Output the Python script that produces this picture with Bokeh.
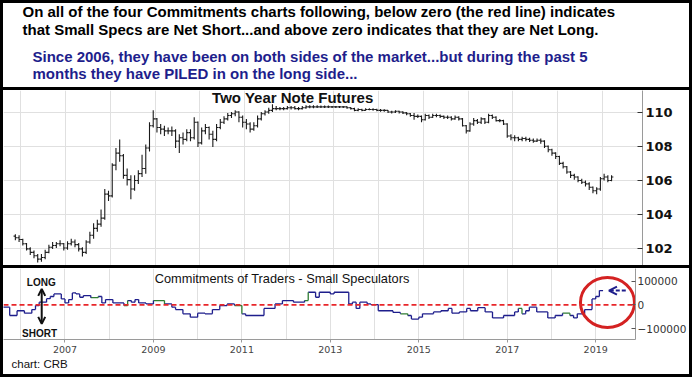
import pandas as pd
from bokeh.plotting import figure
from bokeh.models import (Range1d, FixedTicker, Label, Span, Arrow, OpenHead, Title,
                          BasicTickFormatter, Spacer)
from bokeh.layouts import column, row
from bokeh.embed import file_html
from bokeh.resources import INLINE

# ---------------- data ----------------
first_month = "2005-11"
first_open = 102.75
closes = [
    102.65, 102.55,
    102.30, 102.00, 101.80, 101.60, 101.40, 101.50, 101.80, 102.10, 102.20, 102.30, 102.30, 102.05,
    102.30, 102.40, 102.25, 102.00, 101.80, 102.40, 102.80, 103.20, 103.45, 103.80, 105.20, 105.10,
    106.90, 107.60, 107.45, 106.30, 106.05, 105.50, 106.00, 106.40, 106.70, 107.90, 109.20, 109.60,
    109.10, 109.00, 108.90, 108.90, 108.90, 108.30, 108.50, 108.40, 108.80, 108.50, 109.40, 108.20,
    108.90, 109.10, 108.70, 108.40, 109.10, 109.40, 109.60, 109.80, 109.90, 110.00, 109.70, 109.40,
    109.30, 109.00, 109.20, 109.60, 109.90, 110.00, 110.10, 110.20, 110.20, 110.20, 110.20, 110.25,
    110.25, 110.20, 110.20, 110.25, 110.30, 110.30, 110.30, 110.30, 110.30, 110.30, 110.30, 110.30,
    110.30, 110.30, 110.30, 110.25, 110.20, 110.10, 110.15, 110.10, 110.15, 110.15, 110.15, 110.10,
    110.10, 110.10, 110.00, 110.00, 110.05, 110.00, 109.95, 109.90, 109.80, 109.75, 109.75, 109.55,
    109.80, 109.70, 109.80, 109.80, 109.75, 109.70, 109.70, 109.60, 109.70, 109.60, 109.20, 108.90,
    109.30, 109.50, 109.40, 109.60, 109.40, 109.80, 109.70, 109.50, 109.50, 109.30, 108.60, 108.50,
    108.50, 108.40, 108.45, 108.40, 108.35, 108.30, 108.35, 108.30, 108.00, 107.80, 107.60, 107.40,
    107.00, 106.80, 106.50, 106.30, 106.20, 106.00, 105.90, 105.80, 105.60, 105.40, 105.50, 106.10,
    106.20, 106.00, 106.20,
]
highs = [
    102.85, 102.80,
    102.60, 102.35, 102.10, 101.90, 101.70, 101.70, 101.95, 102.25, 102.40, 102.40, 102.50, 102.35,
    102.45, 102.60, 102.55, 102.35, 102.10, 102.50, 103.00, 103.50, 103.70, 104.30, 105.50, 105.40,
    107.00, 107.90, 108.40, 107.55, 106.70, 106.30, 106.30, 106.60, 107.50, 108.10, 109.40, 110.10,
    109.65, 109.30, 109.20, 109.10, 109.15, 109.00, 108.70, 108.80, 109.00, 109.00, 109.70, 109.45,
    109.10, 109.30, 109.15, 108.90, 109.30, 109.60, 109.75, 109.95, 110.00, 110.10, 110.05, 109.80,
    109.60, 109.40, 109.40, 109.80, 110.00, 110.10, 110.25, 110.45, 110.35, 110.30, 110.30, 110.35,
    110.35, 110.35, 110.30, 110.35, 110.40, 110.40, 110.40, 110.40, 110.38, 110.38, 110.38, 110.36,
    110.36, 110.36, 110.36, 110.34, 110.30, 110.25, 110.22, 110.20, 110.22, 110.22, 110.22, 110.20,
    110.18, 110.16, 110.12, 110.08, 110.10, 110.08, 110.05, 110.00, 109.95, 109.95, 109.85, 109.80,
    109.90, 109.85, 109.90, 109.90, 109.85, 109.80, 109.80, 109.75, 109.80, 109.75, 109.65, 109.25,
    109.40, 109.65, 109.60, 109.70, 109.65, 109.90, 109.85, 109.75, 109.60, 109.55, 109.35, 108.70,
    108.65, 108.55, 108.55, 108.55, 108.50, 108.45, 108.45, 108.45, 108.35, 108.05, 107.85, 107.65,
    107.45, 107.10, 106.85, 106.55, 106.40, 106.25, 106.10, 106.00, 105.90, 105.65, 105.60, 106.20,
    106.40, 106.30, 106.30,
]
lows = [
    102.50, 102.40,
    102.20, 101.90, 101.65, 101.45, 101.20, 101.25, 101.40, 101.75, 102.00, 102.05, 102.15, 101.90,
    101.95, 102.20, 102.10, 101.85, 101.55, 101.70, 102.30, 102.60, 103.00, 103.30, 103.70, 104.80,
    105.00, 106.60, 107.10, 106.10, 105.70, 104.90, 105.40, 105.80, 106.20, 106.40, 107.70, 109.10,
    108.80, 108.70, 108.60, 108.70, 108.60, 107.90, 107.60, 108.10, 108.30, 108.30, 108.40, 107.95,
    108.10, 108.70, 108.40, 107.95, 108.30, 109.00, 109.30, 109.50, 109.65, 109.75, 109.40, 109.10,
    109.00, 108.80, 108.90, 109.10, 109.50, 109.80, 109.90, 110.00, 110.10, 110.10, 110.10, 110.15,
    110.15, 110.15, 110.10, 110.15, 110.20, 110.22, 110.22, 110.24, 110.24, 110.24, 110.24, 110.24,
    110.24, 110.24, 110.24, 110.20, 110.15, 110.05, 110.05, 110.05, 110.08, 110.10, 110.08, 110.05,
    110.02, 110.02, 109.95, 109.92, 109.95, 109.92, 109.88, 109.82, 109.72, 109.55, 109.65, 109.40,
    109.50, 109.60, 109.65, 109.70, 109.65, 109.60, 109.60, 109.50, 109.55, 109.50, 109.15, 108.75,
    108.85, 109.20, 109.30, 109.30, 109.30, 109.35, 109.60, 109.45, 109.40, 109.25, 108.50, 108.35,
    108.30, 108.30, 108.30, 108.30, 108.25, 108.20, 108.25, 108.15, 107.90, 107.65, 107.45, 107.25,
    106.90, 106.70, 106.40, 106.15, 106.05, 105.90, 105.80, 105.65, 105.45, 105.25, 105.20, 105.40,
    106.00, 105.90, 105.95,
]

cot_dates = [
    "2005-08", "2005-10", "2005-12", "2006-02", "2006-04", "2006-05", "2006-06", "2006-08",
    "2006-09", "2006-10", "2006-12", "2007-01", "2007-02", "2007-03", "2007-04", "2007-05",
    "2007-06", "2007-08", "2007-10", "2007-11", "2007-12", "2008-02", "2008-05", "2008-06",
    "2008-07", "2008-08", "2008-09", "2008-11", "2009-01", "2009-04", "2009-06", "2009-07",
    "2009-09", "2009-11", "2010-01", "2010-03", "2010-05", "2010-07", "2010-09", "2010-11",
    "2011-01", "2011-02", "2011-07", "2011-10", "2011-12", "2012-03", "2012-06", "2012-07",
    "2012-09", "2012-10", "2013-01", "2013-02", "2013-06", "2013-07", "2013-08", "2013-09",
    "2013-11", "2013-12", "2014-02", "2014-06", "2014-08", "2014-10", "2014-11", "2015-01",
    "2015-02", "2015-05", "2015-07", "2015-09", "2015-10", "2015-12", "2016-02", "2016-03",
    "2016-05", "2016-07", "2016-09", "2016-12", "2017-03", "2017-04", "2017-05", "2017-06",
    "2017-07", "2017-09", "2017-12", "2018-02", "2018-04", "2018-06", "2018-07", "2018-08",
    "2018-10", "2018-12", "2019-01", "2019-02", "2019-03",
]
cot_values = [
    -10000, -45000, -25000, -35000, -20000, -3000, 11000, 26000,
    35000, 46000, 25000, 8000, 22000, 50000, 46000, 32000,
    39000, 30000, 35000, 8000, 22000, 8000, -3000, 18000,
    11000, 22000, 8000, 4000, 18000, 4000, -10000, -20000,
    -38000, -52000, -35000, -38000, -20000, -3000, 4000, -3000,
    -38000, -45000, -15000, 4000, 18000, 11000, 18000, 53000,
    32000, 53000, 46000, 53000, 4000, 11000, -15000, 11000,
    4000, 1000, -25000, -32000, -38000, -45000, -60000, -52000,
    -38000, -30000, -25000, -15000, -35000, -30000, -15000, -25000,
    -12000, -30000, -55000, -45000, -30000, -15000, -38000, -25000,
    -10000, -30000, -55000, -45000, -35000, -45000, -55000, -38000,
    -20000, 25000, 35000, 60000, 60000,
]
# steps drawn in green instead of navy
cot_green_steps = ["2007-08", "2008-05", "2009-01", "2010-11", "2012-06", "2014-08", "2017-04", "2018-04"]

price_ticks = [102, 104, 106, 108, 110]
cot_ticks = [-100000, 0, 100000]
year_labels = [2007, 2009, 2011, 2013, 2015, 2017, 2019]
grid_years = list(range(2006, 2020))

text_black = [
    "On all of the four Commitments charts following, below zero (the red line) indicates",
    "that Small Specs are Net Short...and above zero indicates that they are Net Long.",
]
text_blue = [
    "Since 2006, they have been on both sides of the market...but during the past 5",
    "months they have PILED in on the long side...",
]

# ---------------- styling constants ----------------
W, PAD = 692, 3
INNER = W - 2 * PAD
H_TEXT, H_PRICE, H_COT = 84, 175, 106
RIGHT = 47
X_RANGE = (2005.61, 2019.90)
NAVY = "#1e1e8c"
GRID = "#e0e0e0"
AX = "#9a9a9a"
ARIAL = "Liberation Sans"
VERD = "DejaVu Sans"


def black(w, h):
    return Spacer(width=w, height=h, styles={"background-color": "black"})


# ---------------- text panel ----------------
tp = figure(width=INNER, height=H_TEXT, toolbar_location=None, output_backend="svg", title=None,
            x_axis_location=None, y_axis_location=None, min_border=0,
            x_range=Range1d(0, INNER), y_range=Range1d(H_TEXT, 0),
            outline_line_color=None)
tp.grid.visible = False
for txt, yy in zip(text_black, [8.4, 25.8]):
    tp.add_layout(Label(x=19, y=yy, text=txt, text_baseline="middle", text_font=ARIAL,
                        text_font_style="bold", text_font_size="15px", text_color="black"))
for txt, yy in zip(text_blue, [52.8, 70.0]):
    tp.add_layout(Label(x=29, y=yy, text=txt, text_baseline="middle", text_font=ARIAL,
                        text_font_style="bold", text_font_size="15px", text_color=NAVY))

# ---------------- price panel ----------------
dates = pd.date_range(first_month + "-01", periods=len(closes), freq="MS")
t = list(dates.year + (dates.month - 0.5) / 12)
opens = [first_open] + closes[:-1]
tick = 0.04

pp = figure(width=INNER, height=H_PRICE, toolbar_location=None, output_backend="svg", title=None,
            x_range=Range1d(*X_RANGE), y_range=Range1d(101.03, 111.26),
            x_axis_location=None, y_axis_location="right",
            min_border_left=0, min_border_right=RIGHT, min_border_top=0, min_border_bottom=0,
            outline_line_color=None)
pp.xgrid.ticker = FixedTicker(ticks=grid_years)
pp.ygrid.ticker = FixedTicker(ticks=price_ticks)
pp.grid.grid_line_color = GRID
pp.yaxis.ticker = FixedTicker(ticks=price_ticks)
pp.yaxis.axis_line_color = AX
pp.yaxis.major_tick_in = 5
pp.yaxis.major_tick_out = 0
pp.yaxis.major_tick_line_color = "#333333"
pp.yaxis.minor_tick_line_color = None
pp.yaxis.major_label_standoff = 3
pp.yaxis.major_label_text_font = VERD
pp.yaxis.major_label_text_font_style = "bold"
pp.yaxis.major_label_text_font_size = "13px"
pp.yaxis.major_label_text_color = "#111111"

bar_col = "#1a1a1a"
pp.segment(x0=t, y0=lows, x1=t, y1=highs, line_color=bar_col, line_width=1.1)
pp.segment(x0=[v - tick for v in t], y0=opens, x1=t, y1=opens, line_color=bar_col, line_width=1.1)
pp.segment(x0=t, y0=closes, x1=[v + tick for v in t], y1=closes, line_color=bar_col, line_width=1.1)
pp.add_layout(Label(x=2012.08, y=110.87, text="Two Year Note Futures", text_align="center",
                    text_baseline="middle", text_font=ARIAL, text_font_style="bold",
                    text_font_size="15px", text_color="#111111"))

# ---------------- COT panel ----------------
tc = [int(d[:4]) + (int(d[5:]) - 1) / 12 for d in cot_dates]
hx0, hx1, hy, vx, vy0, vy1, cols = [], [], [], [], [], [], []
for i in range(len(tc) - 1):
    c = "#2e7d32" if cot_dates[i] in cot_green_steps else NAVY
    hx0.append(tc[i]); hx1.append(tc[i + 1]); hy.append(cot_values[i])
    vx.append(tc[i + 1]); vy0.append(cot_values[i]); vy1.append(cot_values[i + 1])
    cols.append(c)

cp = figure(width=INNER, height=H_COT, toolbar_location=None, output_backend="svg", title=None,
            x_range=Range1d(*X_RANGE), y_range=Range1d(-146000, 153000),
            x_axis_location="below", y_axis_location="right",
            min_border_left=0, min_border_right=RIGHT, min_border_top=0, min_border_bottom=35,
            outline_line_color=None)
cp.xgrid.ticker = FixedTicker(ticks=grid_years)
cp.xgrid.grid_line_color = GRID
cp.ygrid.visible = False
cp.yaxis.ticker = FixedTicker(ticks=cot_ticks)
cp.yaxis.formatter = BasicTickFormatter(use_scientific=False)
cp.yaxis.axis_line_color = AX
cp.yaxis.major_tick_in = 4
cp.yaxis.major_tick_out = 0
cp.yaxis.major_tick_line_color = "#555555"
cp.yaxis.minor_tick_line_color = None
cp.yaxis.major_label_standoff = 2
cp.yaxis.major_label_text_font = VERD
cp.yaxis.major_label_text_font_size = "10.5px"
cp.yaxis.major_label_text_color = "#333333"
cp.xaxis.ticker = FixedTicker(ticks=year_labels)
cp.xaxis.formatter = BasicTickFormatter(use_scientific=False)
cp.xaxis.axis_line_color = AX
cp.xaxis.major_tick_in = 0
cp.xaxis.major_tick_out = 3
cp.xaxis.major_tick_line_color = AX
cp.xaxis.minor_tick_line_color = None
cp.xaxis.major_label_standoff = 3
cp.xaxis.major_label_text_font = VERD
cp.xaxis.major_label_text_font_size = "9.5px"
cp.xaxis.major_label_text_color = "#444444"

cp.add_layout(Span(location=0, dimension="width", line_color="#e8262a", line_width=1.6,
                   line_dash="5 3"))
cp.segment(x0=hx0, y0=hy, x1=hx1, y1=hy, line_color=cols, line_width=1.3)
cp.segment(x0=vx, y0=vy0, x1=vx, y1=vy1, line_color=cols, line_width=1.3)

cp.add_layout(Label(x=2011.91, y=111000, text="Commitments of Traders - Small Speculators",
                    text_align="center", text_baseline="middle", text_font=ARIAL,
                    text_font_size="12.8px", text_color="#111111"))
cp.add_layout(Label(x=2006.465, y=95000, text="LONG", text_align="center", text_baseline="middle",
                    text_font=ARIAL, text_font_style="bold", text_font_size="10px", text_color="#111111"))
cp.add_layout(Label(x=2006.425, y=-119000, text="SHORT", text_align="center", text_baseline="middle",
                    text_font=ARIAL, text_font_style="bold", text_font_size="10px", text_color="#111111"))
cp.add_layout(Arrow(x_start=2006.474, y_start=-80000, x_end=2006.474, y_end=67000,
                    line_color="#111111", line_width=2,
                    start=OpenHead(size=7, line_width=2, line_color="#111111"),
                    end=OpenHead(size=7, line_width=2, line_color="#111111")))
cp.ellipse(x=[2019.266], y=[9700], width=54, height=50, width_units="screen", height_units="screen",
           fill_alpha=0, line_color="#d42222", line_width=3)
cp.add_layout(Arrow(x_start=2019.68, y_start=60000, x_end=2019.30, y_end=60000,
                    line_color=NAVY, line_width=2, line_dash="4 2",
                    end=OpenHead(size=8, line_width=2, line_color=NAVY), start=None))
cp.add_layout(Title(text="chart: CRB", align="left", offset=8, standoff=1,
                    text_font=ARIAL, text_font_size="11.5px", text_font_style="normal",
                    text_color="#111111"), "below")

layout = column(
    black(W, PAD),
    row(black(PAD, H_TEXT), tp, black(PAD, H_TEXT)),
    black(W, PAD),
    row(black(PAD, H_PRICE), pp, black(PAD, H_PRICE)),
    black(W, PAD),
    row(black(PAD, H_COT), cp, black(PAD, H_COT)),
    black(W, PAD),
)

open("out.html", "w").write(file_html(layout, INLINE))
